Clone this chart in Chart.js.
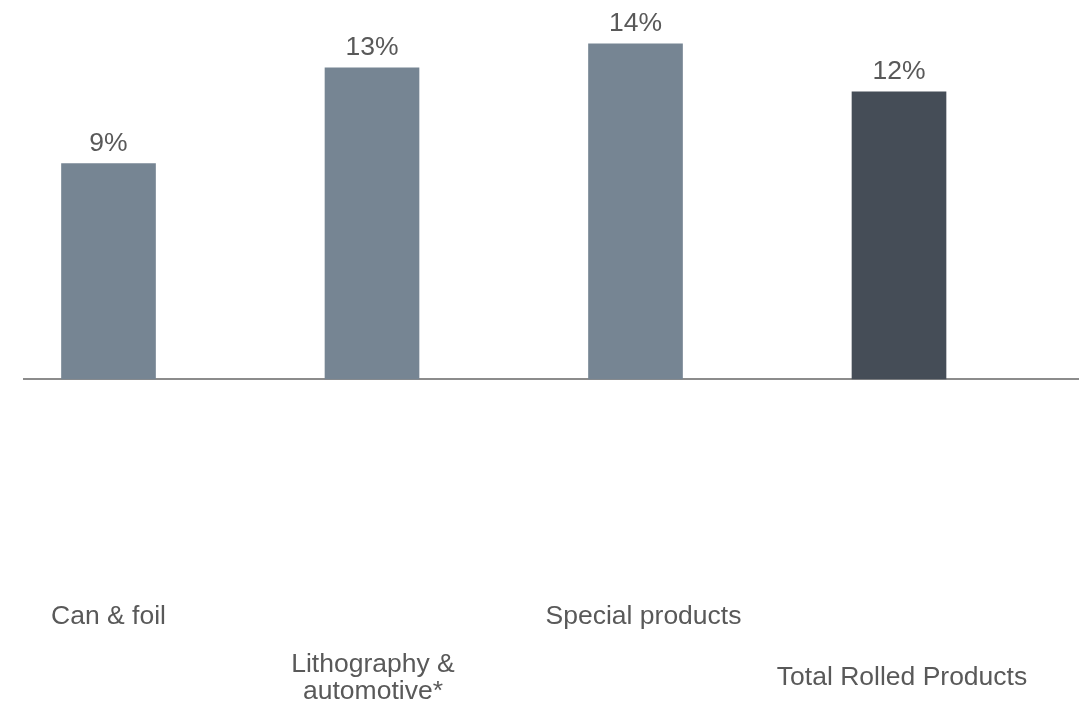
<!DOCTYPE html>
<html lang="en">
<head>
    <meta charset="UTF-8">
    <title>Rolled Products</title>
    <script src="https://cdn.jsdelivr.net/npm/chart.js@4/dist/chart.umd.min.js"></script>
    <style>
        body {
            margin: 0;
            background: #ffffff;
        }
        .chart-container {
            position: relative;
            width: 1084px;
            height: 710px;
        }
    </style>
</head>
<body>
    <div class="chart-container">
        <canvas id="barChart"></canvas>
    </div>

    <script>
        // Données
        const categories = [
            ['Can & foil'],
            ['Lithography &', 'automotive*'],
            ['Special products'],
            ['Total Rolled Products']
        ];
        const values = [9, 13, 14, 12];
        const valueLabels = ['9%', '13%', '14%', '12%'];
        const barColors = ['#768593', '#768593', '#768593', '#454d57'];

        const textColor = '#595959';
        const fontSpec = '26.5px "Liberation Sans", Arial, sans-serif';

        // Étiquettes au-dessus des barres
        const valueLabelPlugin = {
            id: 'valueLabels',
            afterDatasetsDraw(chart) {
                const ctx = chart.ctx;
                const meta = chart.getDatasetMeta(0);
                ctx.save();
                ctx.font = fontSpec;
                ctx.fillStyle = textColor;
                ctx.textAlign = 'center';
                ctx.textBaseline = 'alphabetic';
                meta.data.forEach((bar, i) => {
                    ctx.fillText(valueLabels[i], bar.x, bar.y - 13);
                });
                ctx.restore();
            }
        };

        // Libellés des catégories, décalés en deux rangées
        const categoryLabelPlugin = {
            id: 'categoryLabels',
            afterDraw(chart) {
                const ctx = chart.ctx;
                const x = chart.scales.x;
                const rowY = [617, 678];
                const shiftX = [0, 1, 8, 3];
                const lineH = 27;
                ctx.save();
                ctx.font = fontSpec;
                ctx.fillStyle = textColor;
                ctx.textAlign = 'center';
                ctx.textBaseline = 'middle';
                categories.forEach((lines, i) => {
                    const cx = x.getPixelForValue(i) + shiftX[i];
                    const y0 = rowY[i % 2] - (lines.length - 1) * lineH / 2;
                    lines.forEach((line, j) => {
                        ctx.fillText(line, cx, y0 + j * lineH);
                    });
                });
                ctx.restore();
            }
        };

        const ctx = document.getElementById('barChart').getContext('2d');
        const chart = new Chart(ctx, {
            type: 'bar',
            data: {
                datasets: [{
                    data: values.map((v, i) => ({ x: i, y: v })),
                    backgroundColor: barColors,
                    borderWidth: 0,
                    barThickness: 94,
                    clip: false
                }]
            },
            options: {
                responsive: true,
                maintainAspectRatio: false,
                animation: false,
                layout: {
                    padding: { left: 24, right: 6, top: 20, bottom: 323 }
                },
                plugins: {
                    legend: { display: false },
                    tooltip: { enabled: false }
                },
                scales: {
                    x: {
                        type: 'linear',
                        offset: false,
                        min: -0.3207,
                        max: 3.6793,
                        grid: { display: false },
                        ticks: { display: false },
                        border: { display: true, color: '#8c8c8c', width: 2 }
                    },
                    y: {
                        display: false,
                        min: 0,
                        max: 15
                    }
                }
            },
            plugins: [valueLabelPlugin, categoryLabelPlugin]
        });
    </script>
</body>
</html>
